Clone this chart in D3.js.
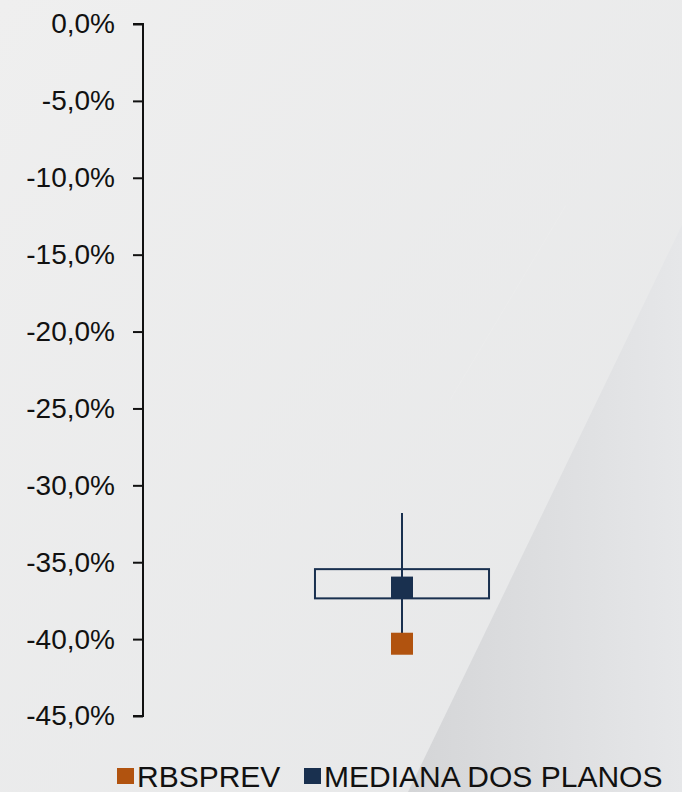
<!DOCTYPE html>
<html>
<head>
<meta charset="utf-8">
<script src="https://cdn.jsdelivr.net/npm/d3@7"></script>
<style>
  html, body { margin: 0; padding: 0; background: #ececec; }
  svg { display: block; }
  text { font-family: "Liberation Sans", Arial, sans-serif; fill: #111; }
</style>
</head>
<body>
<script>
// ---- data ----
const categories = ["RBSPREV"];
const yTickValues = [0, -5, -10, -15, -20, -25, -30, -35, -40, -45];
const whiskerHigh = [-31.8];
const boxTop = [-35.45];
const medianValues = [-36.65];
const boxBottom = [-37.35];
const whiskerLow = [-39.8];
const rbsprevValues = [-40.3];
const legendLabels = ["RBSPREV", "MEDIANA DOS PLANOS"];

const W = 682, H = 792;
const navy = "#19304f", orange = "#b1530f";

const svg = d3.select("body").append("svg").attr("width", W).attr("height", H);

// background
const defs = svg.append("defs");
const bg = defs.append("linearGradient").attr("id", "bg").attr("x1", "0").attr("y1", "0").attr("x2", "1").attr("y2", "1");
bg.append("stop").attr("offset", "0").attr("stop-color", "#efefef");
bg.append("stop").attr("offset", "1").attr("stop-color", "#e6e7e8");
const wedge = defs.append("linearGradient").attr("id", "wedge").attr("x1", "0").attr("y1", "0").attr("x2", "1").attr("y2", "0");
wedge.append("stop").attr("offset", "0").attr("stop-color", "#d4d5d7");
wedge.append("stop").attr("offset", "1").attr("stop-color", "#e6e7e9");
svg.append("rect").attr("width", W).attr("height", H).attr("fill", "url(#bg)");
svg.append("path").attr("d", "M682,225 L682,792 L408,792 Z").attr("fill", "url(#wedge)");
svg.append("path").attr("d", "M566,205 L450,400").attr("stroke", "#f1f1f1").attr("stroke-width", 1).attr("opacity", 0.35);

// scales
const y = d3.scaleLinear().domain([0, -45]).range([24, 716]);
const x = d3.scaleBand().domain(categories).range([143, 661]).padding(0.497);

// axis
const yAxis = d3.axisLeft(y).tickValues(yTickValues).tickSize(10).tickPadding(18)
  .tickFormat(d => d3.format(".1f")(d).replace("−", "-").replace(".", ",") + "%");
const ax = svg.append("g").attr("transform", "translate(143,0)").call(yAxis);
ax.select(".domain").attr("d", "M-10," + y(0) + "H0V" + y(-45) + "H-10").attr("stroke", "#111").attr("stroke-width", 2);
ax.selectAll(".tick line").attr("stroke", "#111").attr("stroke-width", 2);
ax.selectAll(".tick text").style("font-size", "28px").style("font-family", "Liberation Sans, Arial, sans-serif").attr("fill", "#111");

const g = svg.append("g");
const cx = d => x(d) + x.bandwidth() / 2;

// whisker
g.selectAll(".whisker").data(categories).join("line")
  .attr("x1", cx).attr("x2", cx)
  .attr("y1", (d, i) => y(whiskerHigh[i])).attr("y2", (d, i) => y(whiskerLow[i]))
  .attr("stroke", navy).attr("stroke-width", 2);

// box
g.selectAll(".box").data(categories).join("rect")
  .attr("x", d => x(d)).attr("width", x.bandwidth())
  .attr("y", (d, i) => y(boxTop[i])).attr("height", (d, i) => y(boxBottom[i]) - y(boxTop[i]))
  .attr("fill", "none").attr("stroke", navy).attr("stroke-width", 2);

const ms = 22;
// median marker
g.selectAll(".median").data(categories).join("rect")
  .attr("x", d => cx(d) - ms / 2).attr("y", (d, i) => y(medianValues[i]) - ms / 2)
  .attr("width", ms).attr("height", ms).attr("fill", navy);

// rbsprev marker
g.selectAll(".rbs").data(categories).join("rect")
  .attr("x", d => cx(d) - ms / 2).attr("y", (d, i) => y(rbsprevValues[i]) - ms / 2)
  .attr("width", ms).attr("height", ms).attr("fill", orange);

// legend
const legendColors = [orange, navy];
const legendX = [117, 304];
const lg = svg.append("g");
legendLabels.forEach((lab, i) => {
  lg.append("rect").attr("x", legendX[i]).attr("y", 768).attr("width", 17).attr("height", 16).attr("fill", legendColors[i]);
  lg.append("text").attr("x", legendX[i] + 20).attr("y", 787)
    .style("font-size", "30px").text(lab);
});
</script>
</body>
</html>
